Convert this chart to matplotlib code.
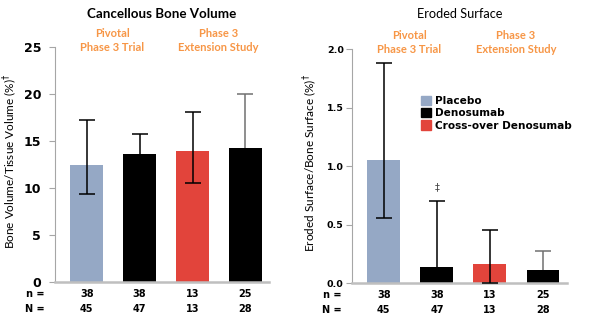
import matplotlib
matplotlib.use("Agg")
import matplotlib.pyplot as plt
from matplotlib.patches import Patch

# Data
groups = ["Placebo", "Denosumab", "Cross-over Denosumab", "Denosumab"]
n_vals = [38, 38, 13, 25]
N_vals = [45, 47, 13, 28]

bv_mean = [12.5, 13.6, 13.9, 14.3]
bv_low = [9.4, 11.5, 10.5, 8.6]
bv_high = [17.2, 15.7, 18.1, 20.0]

es_mean = [1.05, 0.14, 0.16, 0.11]
es_low = [0.56, 0.0, 0.0, 0.0]
es_high = [1.88, 0.70, 0.45, 0.27]

C_PBO = "#95a8c5"
C_DMAB = "#000000"
C_CROSS = "#e2443b"
C_ORANGE = "#f79646"
C_AXIS = "#a6a6a6"
bar_colors = [C_PBO, C_DMAB, C_CROSS, C_DMAB]
err_colors = ["k", "k", "k", "#707070"]
err_z = [3, 1, 3, 1]   # whiskers behind the black bars, in front of the others

TITLE_FONT = "Lato"


def draw_panel(ax, mean, low, high, ylim, ticks, ticklabels, tick_fs, tick_pad, ylabel):
    x = range(len(mean))
    ax.bar(x, mean, width=0.62, color=bar_colors, zorder=2)
    for i in x:
        ax.errorbar(i, mean[i], yerr=[[mean[i] - low[i]], [high[i] - mean[i]]],
                    fmt="none", ecolor=err_colors[i], elinewidth=1.1, capsize=6,
                    capthick=1.1, zorder=err_z[i])
    ax.set_xlim(-0.6, 3.45)
    ax.set_ylim(*ylim)
    ax.set_xticks([])
    ax.set_yticks(ticks)
    ax.set_yticklabels(ticklabels, fontsize=tick_fs, fontweight="bold")
    ax.tick_params(axis="y", length=4, width=0.8, color=C_AXIS, pad=tick_pad)
    for s in ["top", "right"]:
        ax.spines[s].set_visible(False)
    ax.spines["left"].set_color(C_AXIS)
    ax.spines["left"].set_linewidth(0.8)
    ax.spines["bottom"].set_color("#bfbfbf")
    ax.spines["bottom"].set_linewidth(1.8)
    ax.set_ylabel(ylabel, fontsize=8.5, family=TITLE_FONT)
    # n / N rows under the bars
    tr = ax.get_xaxis_transform()
    ax.text(-0.8, -0.05, "n =", transform=tr, ha="right", va="center", fontsize=7, fontweight="bold")
    ax.text(-0.8, -0.115, "N =", transform=tr, ha="right", va="center", fontsize=7, fontweight="bold")
    for i in x:
        ax.text(i, -0.05, str(n_vals[i]), transform=tr, ha="center", va="center", fontsize=7, fontweight="bold")
        ax.text(i, -0.115, str(N_vals[i]), transform=tr, ha="center", va="center", fontsize=7, fontweight="bold")
    # study-phase headers
    ax.text(0.48, 1.028, "Pivotal\nPhase 3 Trial", transform=tr, ha="center", va="center",
            fontsize=8, color=C_ORANGE, fontweight="bold", family=TITLE_FONT, linespacing=1.25)
    ax.text(2.49, 1.028, "Phase 3\nExtension Study", transform=tr, ha="center", va="center",
            fontsize=8, color=C_ORANGE, fontweight="bold", family=TITLE_FONT, linespacing=1.25)


fig = plt.figure(figsize=(6, 3.24), dpi=100)
ax1 = fig.add_axes([0.0917, 0.1296, 0.357, 0.725])
ax2 = fig.add_axes([0.5867, 0.1265, 0.358, 0.722])

draw_panel(ax1, bv_mean, bv_low, bv_high, (0, 25), [0, 5, 10, 15, 20, 25],
           ["0", "5", "10", "15", "20", "25"], 9, 6, "Bone Volume/Tissue Volume (%)$^{\\dagger}$")
draw_panel(ax2, es_mean, es_low, es_high, (0, 2.0), [0, 0.5, 1.0, 1.5, 2.0],
           ["0.0", "0.5", "1.0", "1.5", "2.0"], 6.8, 2, "Eroded Surface/Bone Surface (%)$^{\\dagger}$")
ax1.yaxis.set_label_coords(-0.164, 0.515)
ax2.yaxis.set_label_coords(-0.15, 0.515)

ax1.text(0.5, 1.14, "Cancellous Bone Volume", transform=ax1.transAxes, ha="center", va="center",
         fontsize=9.6, fontweight="bold", family=TITLE_FONT)
ax2.text(0.5, 1.15, "Eroded Surface", transform=ax2.transAxes, ha="center", va="center",
         fontsize=9.2, family=TITLE_FONT)

ax2.text(1, 0.82, "\u2021", ha="center", va="center", fontsize=7, color="#444444")

handles = [Patch(color=C_PBO, label="Placebo"),
           Patch(color=C_DMAB, label="Denosumab"),
           Patch(color=C_CROSS, label="Cross-over Denosumab")]
ax2.legend(handles=handles, loc="upper left", bbox_to_anchor=(0.32, 0.80), frameon=False,
           borderpad=0, borderaxespad=0, handlelength=0.95, handleheight=0.95,
           handletextpad=0.4, labelspacing=0.2, prop={"size": 7.6, "weight": "bold"})

fig.savefig("out.png", dpi=100)
